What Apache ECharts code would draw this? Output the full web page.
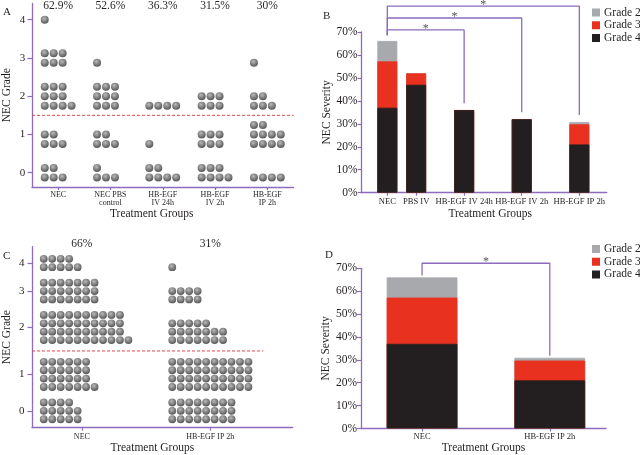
<!DOCTYPE html>
<html><head><meta charset="utf-8">
<script src="https://cdn.jsdelivr.net/npm/echarts@6/dist/echarts.min.js"></script>
<style>html,body{margin:0;padding:0;background:#fff}#c{width:640px;height:455px}</style>
</head><body><div id="c"></div>
<script>
// ================= DATA =================
const gradeLabels = [0, 1, 2, 3, 4];
const threshold = 1.5;            // NEC grade cut-off (dashed line)

// Panel A: dot plot. For each group, per grade 0..4: dots in each row (bottom row first)
const groupsA = ['NEC', 'NEC PBS\ncontrol', 'HB-EGF\nIV 24h', 'HB-EGF\nIV 2h', 'HB-EGF\nIP 2h'];
const pctA = ['62.9%', '52.6%', '36.3%', '31.5%', '30%'];
const dotsA_NEC  = [[3, 2], [3, 2], [4, 3, 3], [3, 3], [1]];
const dotsA_PBS  = [[3, 1], [3, 2], [3, 3, 3], [1], []];
const dotsA_IV24 = [[4, 2], [1], [4], [], []];
const dotsA_IV2  = [[4, 3], [3, 3], [3, 3], [], []];
const dotsA_IP2  = [[4], [4, 4, 2], [3, 2], [1], []];

// Panel B: NEC severity (%) by grade
const groupsB = ['NEC', 'PBS IV', 'HB-EGF IV 24h', 'HB-EGF IV 2h', 'HB-EGF IP 2h'];
const grade4B = [37, 47, 36, 32, 21];
const grade3B = [20.2, 5, 0, 0, 8.8];
const grade2B = [8.9, 0, 0, 0, 1];
const compB = [[0, 2], [0, 3], [0, 4]];   // significant comparisons

// Panel C: dot plot
const groupsC = ['NEC', 'HB-EGF IP 2h'];
const pctC = ['66%', '31%'];
const dotsC_NEC = [[5, 5, 4], [7, 6, 6, 6], [11, 10, 10, 10], [7, 7, 7], [5, 4]];
const dotsC_IP2 = [[8, 8, 8], [10, 10, 10, 10], [7, 7, 5], [4, 4], [1]];

// Panel D: NEC severity (%) by grade
const groupsD = ['NEC', 'HB-EGF IP 2h'];
const grade4D = [37, 21];
const grade3D = [20.2, 8.7];
const grade2D = [8.8, 1.2];
const compD = [[0, 1]];
const sigMark = '*';

// ================= LAYOUT / STYLE =================
const SERIF = '"Liberation Serif", "Times New Roman", serif';
const TXT = '#231f20';
const PURPLE = '#8d6bbd';
const RED_DASH = '#e0474c';
const C4 = '#231f20', C3 = '#e8321f', C2 = '#a7a9ac';
const DOT = {type: 'radial', x: 0.42, y: 0.35, r: 0.62, colorStops: [
  {offset: 0, color: '#a8a8a8'}, {offset: 0.5, color: '#6c6c6c'}, {offset: 1, color: '#333333'}]};

const A_DX = 0.171, A_ROW = 0.248, A_X0 = -1.5 * A_DX;
const C_DX = 0.0659, C_X0 = -4.5 * C_DX;
const C_GAP = 1.85, C_THR_GAP = 2.6, C_PAD_BOTTOM = 1, C_PAD_TOP = 1.45, C_THR_END = 1.41;
const A_XMIN = -0.5, A_XMAX = 4.5, C_XMIN = -0.388, C_XMAX = 1.641;
const B_SLOT = [0, 3, 8, 14, 20];           // horizontal spacing of B groups
const B_LEVEL0 = 70.9, B_LEVEL_STEP = 5.2, B_LEG_L = 2.5, B_LEG_R = 3;
const D_LEVEL0 = 72.2, D_LEG = 0.9;

// ---- panel A dot positions ----
const dotsA = [dotsA_NEC, dotsA_PBS, dotsA_IV24, dotsA_IV2, dotsA_IP2];
const slotsA = gradeLabels.map((g, gi) => Math.max(...dotsA.map(d => d[gi].length)));
const ptsA = [];
dotsA.forEach((grp, i) => grp.forEach((rows, gi) => rows.forEach((n, k) => {
  const y = gradeLabels[gi] + (k - (slotsA[gi] - 1) / 2) * A_ROW;
  for (let j = 0; j < n; j++) ptsA.push([i + A_X0 + j * A_DX, y]);
})));

// ---- panel C: stacked row layout ----
const dotsC = [dotsC_NEC, dotsC_IP2];
const slotsC = gradeLabels.map((g, gi) => Math.max(...dotsC.map(d => d[gi].length)));
const baseC = [];
let pos = C_PAD_BOTTOM;
gradeLabels.forEach((g, gi) => {
  baseC[gi] = pos;
  pos += slotsC[gi] - 1;
  if (gi < gradeLabels.length - 1) pos += (g + 0.5 === threshold) ? C_THR_GAP : C_GAP;
});
const topC = pos + C_PAD_TOP;
const centersC = gradeLabels.map((g, gi) => baseC[gi] + (slotsC[gi] - 1) / 2);
const thrIdx = gradeLabels.indexOf(Math.floor(threshold));
const thrC = (baseC[thrIdx] + slotsC[thrIdx] - 1 + baseC[thrIdx + 1]) / 2;
const ptsC = [];
dotsC.forEach((grp, i) => grp.forEach((rows, gi) => rows.forEach((n, k) => {
  for (let j = 0; j < n; j++) ptsC.push([i + C_X0 + j * C_DX, baseC[gi] + k]);
})));

// ---- stacked tops (cumulative) ----
const cum34B = grade4B.map((v, i) => v + grade3B[i]);
const totB = cum34B.map((v, i) => v + grade2B[i]);
const cum34D = grade4D.map((v, i) => v + grade3D[i]);
const totD = cum34D.map((v, i) => v + grade2D[i]);
function bracket(x0, x1, yl, lev, yr) { return [[x0, yl], [x0, lev], [x1, lev], [x1, yr]]; }

const idxA = groupsA.map((_, i) => i);
const idxC = groupsC.map((_, i) => i);
const idxD = groupsD.map((_, i) => i);

const axisLineS = {show: true, onZero: false, lineStyle: {color: PURPLE, width: 1.3}};
const tickS = (len, extra) => Object.assign({show: true, length: len, lineStyle: {color: PURPLE, width: 1.2}}, extra || {});
const lbl = (size, extra) => Object.assign({fontFamily: SERIF, fontSize: size, color: TXT}, extra || {});
const nameS = (extra) => Object.assign({fontFamily: SERIF, fontSize: 11.5, color: TXT}, extra || {});

const series = [];
// A dots
series.push({type: 'scatter', xAxisIndex: 0, yAxisIndex: 0, data: ptsA, symbolSize: 8,
  itemStyle: {color: DOT}, silent: true});
// A threshold line
series.push({type: 'line', xAxisIndex: 0, yAxisIndex: 0, symbol: 'none', silent: true, color: RED_DASH,
  lineStyle: {color: RED_DASH, type: [3, 2], width: 1}, data: [[A_XMIN, threshold], [A_XMAX, threshold]]});
// C dots
series.push({type: 'scatter', xAxisIndex: 3, yAxisIndex: 2, data: ptsC, symbolSize: 7.8,
  itemStyle: {color: DOT}, silent: true});
// C threshold line
series.push({type: 'line', xAxisIndex: 3, yAxisIndex: 2, symbol: 'none', silent: true, color: RED_DASH,
  lineStyle: {color: RED_DASH, type: [3, 2], width: 1}, data: [[C_XMIN, thrC], [C_THR_END, thrC]]});

// B bars: drawn as cumulative layers (grade 2 on top of 3 on top of 4)
[['Grade 2', totB, C2], ['Grade 3', cum34B, C3], ['Grade 4', grade4B, C4]].forEach(([n, arr, c]) => {
  series.push({type: 'bar', name: n, xAxisIndex: 2, yAxisIndex: 1, barWidth: 20, barGap: '-100%',
    itemStyle: {color: c, borderColor: c, borderWidth: 0.8}, data: arr.map((v, i) => [B_SLOT[i], v])});
});
// D bars
[['Grade 2', totD, C2], ['Grade 3', cum34D, C3], ['Grade 4', grade4D, C4]].forEach(([n, arr, c]) => {
  series.push({type: 'bar', name: n, xAxisIndex: 5, yAxisIndex: 3, barWidth: 70.7, barGap: '-100%',
    itemStyle: {color: c, borderColor: c, borderWidth: 0.8}, data: arr.map((v, i) => [i, v])});
});
// B brackets + stars
compB.forEach(([a, b], k) => {
  const lev = B_LEVEL0 + k * B_LEVEL_STEP;
  series.push({type: 'line', xAxisIndex: 2, yAxisIndex: 1, clip: false, symbol: 'none', silent: true,
    lineStyle: {color: PURPLE, width: 1.3},
    data: bracket(B_SLOT[a], B_SLOT[b], totB[a] + B_LEG_L, lev, totB[b] + B_LEG_R)});
  series.push({type: 'scatter', xAxisIndex: 2, yAxisIndex: 1, clip: false, silent: true, symbolSize: 1,
    itemStyle: {color: 'rgba(0,0,0,0)'},
    label: {show: true, formatter: sigMark, position: 'inside', offset: [0, -1], fontFamily: SERIF, fontSize: 12, color: TXT},
    data: [[(B_SLOT[a] + B_SLOT[b]) / 2, lev]]});
});
// D bracket + star
compD.forEach(([a, b]) => {
  const lev = D_LEVEL0;
  series.push({type: 'line', xAxisIndex: 5, yAxisIndex: 3, clip: false, symbol: 'none', silent: true,
    lineStyle: {color: PURPLE, width: 1.3},
    data: bracket(a, b, totD[a] + D_LEG, lev, totD[b] + D_LEG)});
  series.push({type: 'scatter', xAxisIndex: 5, yAxisIndex: 3, clip: false, silent: true, symbolSize: 1,
    itemStyle: {color: 'rgba(0,0,0,0)'},
    label: {show: true, formatter: sigMark, position: 'inside', offset: [0, -1], fontFamily: SERIF, fontSize: 12, color: TXT},
    data: [[(a + b) / 2, lev]]});
});

const legendCommon = {orient: 'vertical', icon: 'rect', itemWidth: 6, itemHeight: 6, itemGap: 0.7,
  selectedMode: false, data: ['Grade 2', 'Grade 3', 'Grade 4'], padding: 0,
  textStyle: {fontFamily: SERIF, fontSize: 11.5, color: TXT, lineHeight: 12}};

const option = {
  animation: false,
  backgroundColor: '#fff',
  title: [
    {text: 'A', left: 3, top: 7, padding: 0, textStyle: {fontFamily: SERIF, fontSize: 11, fontWeight: 'normal', color: TXT}},
    {text: 'B', left: 323, top: 11, padding: 0, textStyle: {fontFamily: SERIF, fontSize: 11, fontWeight: 'normal', color: TXT}},
    {text: 'C', left: 3, top: 251, padding: 0, textStyle: {fontFamily: SERIF, fontSize: 11, fontWeight: 'normal', color: TXT}},
    {text: 'D', left: 325, top: 250, padding: 0, textStyle: {fontFamily: SERIF, fontSize: 11, fontWeight: 'normal', color: TXT}}
  ],
  legend: [
    Object.assign({left: 592, top: 6.5}, legendCommon),
    Object.assign({left: 592, top: 243}, legendCommon)
  ],
  grid: [
    {left: 31, top: 3, width: 262.5, height: 184},
    {left: 361.7, top: 32, width: 245, height: 160.7},
    {left: 31, top: 246.7, width: 261.7, height: 181.6},
    {left: 361, top: 268.3, width: 245, height: 160.7}
  ],
  xAxis: [
    // 0: A bottom
    {gridIndex: 0, type: 'value', min: A_XMIN, max: A_XMAX, splitLine: {show: false}, axisLine: axisLineS,
     axisTick: tickS(3, {customValues: idxA}),
     axisLabel: lbl(8, {customValues: idxA, margin: 3.5, lineHeight: 8.5, formatter: v => groupsA[Math.round(v)]}),
     name: 'Treatment Groups', nameLocation: 'middle', nameGap: 21, nameTextStyle: nameS({padding: [0, 22, 0, 0]})},
    // 1: A top (percentages)
    {gridIndex: 0, type: 'value', position: 'top', min: A_XMIN, max: A_XMAX, splitLine: {show: false},
     axisLine: {show: false, onZero: false}, axisTick: {show: false},
     axisLabel: lbl(11.5, {customValues: idxA, inside: true, margin: 2.5, verticalAlign: 'middle', formatter: v => pctA[Math.round(v)]})},
    // 2: B
    {gridIndex: 1, type: 'value', min: -2.67, max: 22.85, splitLine: {show: false}, axisLine: axisLineS,
     axisTick: tickS(3, {customValues: B_SLOT}),
     axisLabel: lbl(8.6, {customValues: B_SLOT, margin: 5, formatter: v => groupsB[B_SLOT.indexOf(Math.round(v))]}),
     name: 'Treatment Groups', nameLocation: 'middle', nameGap: 14, nameTextStyle: nameS({padding: [0, 0, 0, 12]})},
    // 3: C bottom
    {gridIndex: 2, type: 'value', min: C_XMIN, max: C_XMAX, splitLine: {show: false}, axisLine: axisLineS,
     axisTick: tickS(3, {customValues: idxC}),
     axisLabel: lbl(8, {customValues: idxC, margin: 5.5, formatter: v => groupsC[Math.round(v)]}),
     name: 'Treatment Groups', nameLocation: 'middle', nameGap: 14, nameTextStyle: nameS({padding: [0, 20, 0, 0]})},
    // 4: C top (percentages)
    {gridIndex: 2, type: 'value', position: 'top', min: C_XMIN, max: C_XMAX, splitLine: {show: false},
     axisLine: {show: false, onZero: false}, axisTick: {show: false},
     axisLabel: lbl(11.5, {customValues: idxC, margin: 2.7, verticalAlign: 'middle', formatter: v => pctC[Math.round(v)]})},
    // 5: D
    {gridIndex: 3, type: 'value', min: -0.478, max: 1.44, splitLine: {show: false}, axisLine: axisLineS,
     axisTick: tickS(3, {customValues: idxD}),
     axisLabel: lbl(8.5, {customValues: idxD, margin: 3.5, formatter: v => groupsD[Math.round(v)]}),
     name: 'Treatment Groups', nameLocation: 'middle', nameGap: 13.5, nameTextStyle: nameS()}
  ],
  yAxis: [
    {gridIndex: 0, type: 'value', min: -0.375, max: 4.425, splitLine: {show: false}, axisLine: axisLineS,
     axisTick: tickS(4.5, {customValues: gradeLabels}),
     axisLabel: lbl(11, {customValues: gradeLabels, margin: 6.7}),
     name: 'NEC Grade', nameLocation: 'middle', nameGap: 19, nameTextStyle: nameS()},
    {gridIndex: 1, type: 'value', min: 0, max: 70, interval: 10, splitLine: {show: false}, axisLine: axisLineS,
     axisTick: tickS(4), axisLabel: lbl(11.5, {margin: 4, formatter: '{value}%'}),
     name: 'NEC Severity', nameLocation: 'middle', nameGap: 27.7, nameTextStyle: nameS()},
    {gridIndex: 2, type: 'value', min: 0, max: topC, splitLine: {show: false}, axisLine: axisLineS,
     axisTick: tickS(4.5, {customValues: centersC}),
     axisLabel: lbl(11, {customValues: centersC, margin: 7.5, formatter: v => {
       const gi = centersC.findIndex(c => Math.abs(c - v) < 1e-3); return gi < 0 ? '' : String(gradeLabels[gi]); }}),
     name: 'NEC Grade', nameLocation: 'middle', nameGap: 19, nameTextStyle: nameS()},
    {gridIndex: 3, type: 'value', min: 0, max: 70, interval: 10, splitLine: {show: false}, axisLine: axisLineS,
     axisTick: tickS(4), axisLabel: lbl(11.5, {margin: 4, formatter: '{value}%'}),
     name: 'NEC Severity', nameLocation: 'middle', nameGap: 27.3, nameTextStyle: nameS()}
  ],
  series: series
};
const chart = echarts.init(document.getElementById('c'), null, {renderer: 'canvas'});
chart.setOption(option);
</script>
</body></html>
